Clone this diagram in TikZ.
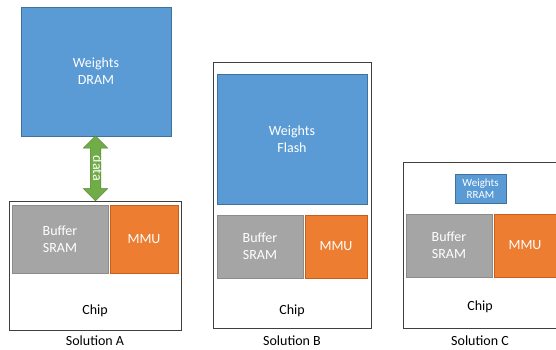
\documentclass[tikz,border=0pt]{standalone}
\usepackage{fontspec}
\setmainfont{Carlito}
\usepackage{tikz}
\usetikzlibrary{calc,shapes.arrows}
\definecolor{memblue}{HTML}{5B9BD5}
\definecolor{memedge}{HTML}{41719C}
\definecolor{sramgray}{HTML}{A5A5A5}
\definecolor{sramedge}{HTML}{8C8C8C}
\definecolor{mmuorange}{HTML}{ED7D31}
\definecolor{mmuedge}{HTML}{C65F1C}
\definecolor{busgreen}{HTML}{70AD47}
\definecolor{busedge}{HTML}{507E32}
\definecolor{chipedge}{HTML}{3F3F3F}
\tikzset{
  chip/.style={draw=chipedge, line width=1pt, fill=white, inner sep=0pt},
  mem/.style={draw=memedge, line width=0.5pt, fill=memblue, text=white, inner sep=0pt,
    align=center, font=\fontsize{14}{17}\selectfont},
  sram/.style={draw=sramedge, line width=0.5pt, fill=sramgray, text=white, inner sep=0pt,
    align=center, font=\fontsize{14}{17}\selectfont},
  mmu/.style={draw=mmuedge, line width=0.5pt, fill=mmuorange, text=white, inner sep=0pt,
    font=\fontsize{14}{17}\selectfont},
  lab/.style={text=black, font=\fontsize{14}{17}\selectfont},
}

\begin{document}
\begin{tikzpicture}[x=1pt,y=1pt]
  \useasboundingbox (0,0) rectangle (556,349);
  % Solution A: weights kept off chip
  \node[chip, minimum width=172, minimum height=129] (chipA) at (95,83.5) {};
  \node[mem, minimum width=150, minimum height=129] (dram) at (96,277.5) {Weights\\DRAM};
  \node[sram, minimum width=96, minimum height=68] (bufA) at (60,110) {Buffer\\SRAM};
  \node[mmu, minimum width=68, minimum height=68] (mmuA) at (144,110) {MMU};
  \node[lab] (chiplabA) at (95,38) {Chip};
  \node[lab] (solA) at (95,8) {Solution A};
  \node[double arrow, rotate=-90, fill=busgreen, draw=busedge, line width=0.5pt,
    text=white, font=\fontsize{14}{17}\selectfont, inner xsep=0pt, inner ysep=0.5pt,
    text height=7pt, text depth=2pt, double arrow head extend=7pt,
    minimum height=65pt] (bus) at ($(dram.south)!0.5!(chipA.north)$) {data};
  % Solution B: flash on chip
  \node[chip, minimum width=158, minimum height=266] (chipB) at (292,154) {};
  \node[mem, minimum width=150, minimum height=130] (flash) at (292,210) {Weights\\Flash};
  \node[sram, minimum width=86, minimum height=63] (bufB) at (260,102.5) {Buffer\\SRAM};
  \node[mmu, minimum width=62, minimum height=63] (mmuB) at (336,102.5) {MMU};
  \node[lab] (chiplabB) at (292,38) {Chip};
  \node[lab] (solB) at (292,8) {Solution B};
  % Solution C: small RRAM on chip
  \node[chip, minimum width=158, minimum height=166] (chipC) at (482,104) {};
  \node[mem, minimum width=51, minimum height=29, font=\fontsize{11}{12}\selectfont]
    (rram) at (480.5,160.5) {Weights\\RRAM};
  \node[sram, minimum width=86, minimum height=63] (bufC) at (449,103.5) {Buffer\\SRAM};
  \node[mmu, minimum width=62, minimum height=63] (mmuC) at (525,103.5) {MMU};
  \node[lab] (chiplabC) at (480,42) {Chip};
  \node[lab] (solC) at (480,8) {Solution C};
\end{tikzpicture}
\end{document}
